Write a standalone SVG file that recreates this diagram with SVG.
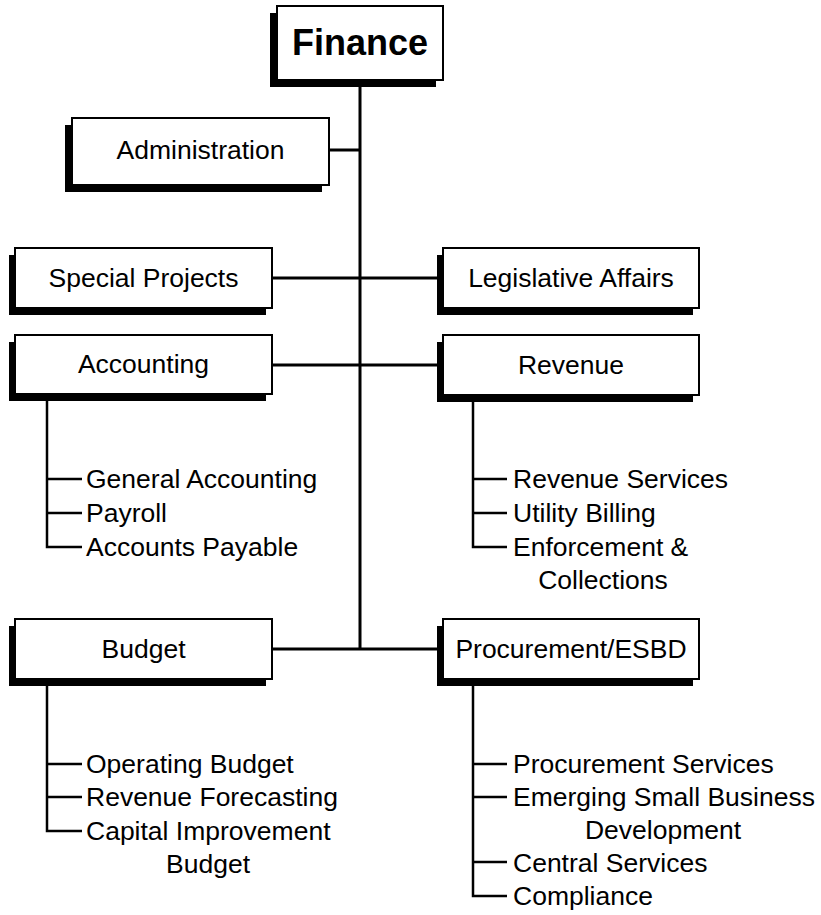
<svg xmlns="http://www.w3.org/2000/svg" width="821" height="915" viewBox="0 0 821 915">
<style>
.sh{fill:#000}
.bx{fill:#fff;stroke:#000;stroke-width:2}
.t{font-family:"Liberation Sans",Arial,sans-serif;font-size:26.5px;fill:#000}
.c{text-anchor:middle}
.main{stroke:#000;stroke-width:3;fill:none}
.sub{stroke:#000;stroke-width:2.5;fill:none}
</style>
<rect width="821" height="915" fill="#fff"/>
<g id="connectors">
<path class="main" d="M360 80V649M272 649H443M329 150H360M272 278H443M272 365H443"/>
<path class="sub" d="M47 394V547H82M47 479H82M47 513H82"/>
<path class="sub" d="M47 679V831H82M47 764H82M47 797H82"/>
<path class="sub" d="M473 395V547H507M473 479H507M473 513H507"/>
<path class="sub" d="M473 679V896H507M473 764H507M473 797H507M473 862H507"/>
</g>
<g id="finance">
<rect class="sh" x="270" y="13" width="166" height="74"/>
<rect class="bx" x="277" y="6" width="166" height="74"/>
<text x="360" y="55" class="t c" style="font-size:36px;font-weight:bold">Finance</text>
</g>
<g id="administration">
<rect class="sh" x="65" y="125" width="257" height="67"/>
<rect class="bx" x="72" y="118" width="257" height="67"/>
<text x="200.5" y="159" class="t c">Administration</text>
</g>
<g id="special-projects">
<rect class="sh" x="9" y="255" width="257" height="60"/>
<rect class="bx" x="15" y="248" width="257" height="60"/>
<text x="143.5" y="287" class="t c">Special Projects</text>
</g>
<g id="legislative-affairs">
<rect class="sh" x="437" y="255" width="256" height="60"/>
<rect class="bx" x="443" y="248" width="256" height="60"/>
<text x="571" y="287" class="t c">Legislative Affairs</text>
</g>
<g id="accounting">
<rect class="sh" x="9" y="342" width="257" height="59"/>
<rect class="bx" x="15" y="335" width="257" height="59"/>
<text x="143.5" y="373" class="t c">Accounting</text>
<text x="86" y="488" class="t">General Accounting</text>
<text x="86" y="522" class="t">Payroll</text>
<text x="86" y="556" class="t">Accounts Payable</text>
</g>
<g id="revenue">
<rect class="sh" x="437" y="342" width="256" height="60"/>
<rect class="bx" x="443" y="335" width="256" height="60"/>
<text x="571" y="374" class="t c">Revenue</text>
<text x="513" y="488" class="t">Revenue Services</text>
<text x="513" y="522" class="t">Utility Billing</text>
<text x="513" y="556" class="t">Enforcement &amp;</text>
<text x="603" y="589" class="t c">Collections</text>
</g>
<g id="budget">
<rect class="sh" x="9" y="626" width="257" height="60"/>
<rect class="bx" x="15" y="619" width="257" height="60"/>
<text x="143.5" y="658" class="t c">Budget</text>
<text x="86" y="773" class="t">Operating Budget</text>
<text x="86" y="806" class="t">Revenue Forecasting</text>
<text x="86" y="840" class="t">Capital Improvement</text>
<text x="208" y="873" class="t c">Budget</text>
</g>
<g id="procurement">
<rect class="sh" x="437" y="626" width="256" height="60"/>
<rect class="bx" x="443" y="619" width="256" height="60"/>
<text x="571" y="658" class="t c">Procurement/ESBD</text>
<text x="513" y="773" class="t">Procurement Services</text>
<text x="513" y="806" class="t">Emerging Small Business</text>
<text x="663" y="839" class="t c">Development</text>
<text x="513" y="872" class="t">Central Services</text>
<text x="513" y="905" class="t">Compliance</text>
</g>
</svg>
